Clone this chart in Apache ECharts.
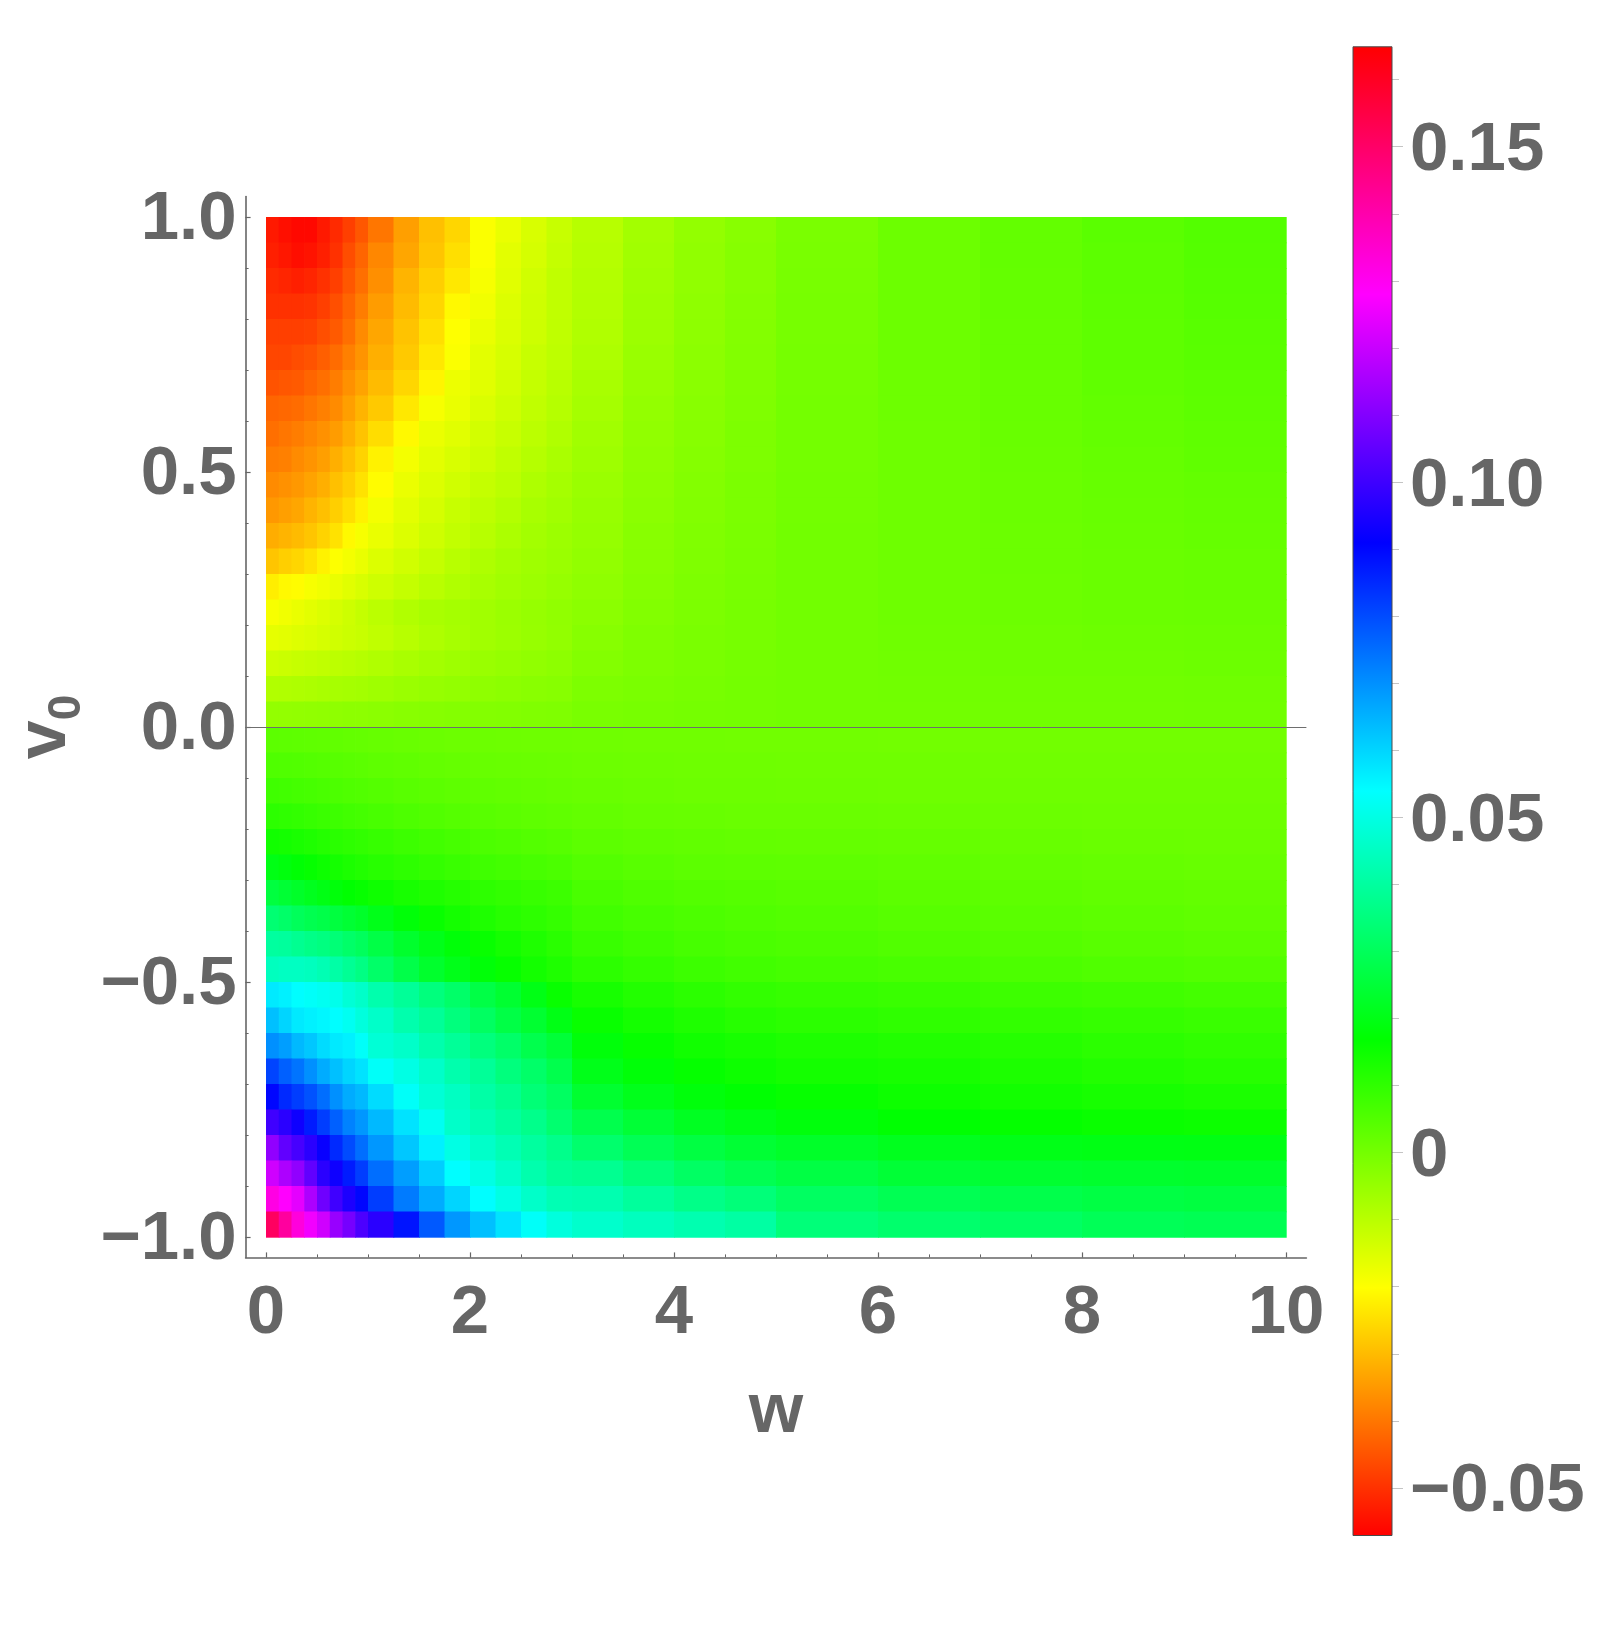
<!DOCTYPE html>
<html><head><meta charset="utf-8">
<script src="https://cdn.jsdelivr.net/npm/echarts@6/dist/echarts.min.js"></script>
<style>html,body{margin:0;padding:0;background:#fff}#c{width:1600px;height:1628px}</style>
</head><body><div id="c"></div>
<script>
// ---- bins (cell edges) ----
const wEdges  = [0,0.125,0.25,0.375,0.5,0.625,0.75,0.875,1,1.25,1.5,1.75,2,2.25,2.5,2.75,3,3.5,4,4.5,5,6,7,8,9,10];
const v0Edges = [1.0,0.95,0.9,0.85,0.8,0.75,0.7,0.65,0.6,0.55,0.5,0.45,0.4,0.35,0.3,0.25,0.2,0.15,0.1,0.05,0.0,
                 -0.05,-0.1,-0.15,-0.2,-0.25,-0.3,-0.35,-0.4,-0.45,-0.5,-0.55,-0.6,-0.65,-0.7,-0.75,-0.8,-0.85,-0.9,-0.95,-1.0];

// ---- values, one array per v0 row (top to bottom) ----
const v0_p0975 = [-0.0535,-0.0549,-0.056,-0.056,-0.0535,-0.051,-0.048,-0.0445,-0.040,-0.034,-0.0293,-0.026,-0.0195,-0.017,-0.0145,-0.012,-0.0097,-0.0067,-0.0045,-0.0028,-0.0008,0.0012,0.0026,0.0038,0.0049];
const v0_p0925 = [-0.0526,-0.0537,-0.055,-0.0543,-0.0526,-0.050,-0.046,-0.0425,-0.0375,-0.033,-0.0285,-0.0247,-0.0195,-0.016,-0.014,-0.0115,-0.0094,-0.0064,-0.0042,-0.0026,-0.0006,0.0012,0.0025,0.0036,0.0047];
const v0_p0875 = [-0.051,-0.0518,-0.0526,-0.0518,-0.050,-0.048,-0.0445,-0.041,-0.0363,-0.031,-0.027,-0.0235,-0.019,-0.0157,-0.0133,-0.011,-0.0091,-0.0061,-0.0041,-0.0025,-0.0005,0.0012,0.0024,0.0035,0.0045];
const v0_p0825 = [-0.050,-0.050,-0.050,-0.0495,-0.048,-0.0456,-0.0425,-0.039,-0.0345,-0.030,-0.026,-0.021,-0.018,-0.015,-0.013,-0.011,-0.0089,-0.0059,-0.0039,-0.0023,-0.0004,0.0012,0.0024,0.0034,0.0044];
const v0_p0775 = [-0.048,-0.048,-0.048,-0.0475,-0.0456,-0.044,-0.041,-0.037,-0.033,-0.0288,-0.0247,-0.020,-0.017,-0.0148,-0.0128,-0.0108,-0.0087,-0.0057,-0.0037,-0.0021,-0.0003,0.0012,0.0023,0.0033,0.0042];
const v0_p0725 = [-0.047,-0.047,-0.046,-0.045,-0.0433,-0.0415,-0.0386,-0.0356,-0.0317,-0.028,-0.0235,-0.0195,-0.016,-0.0142,-0.012,-0.0105,-0.0082,-0.0053,-0.0034,-0.0019,-0.0002,0.0012,0.0022,0.0032,0.004];
const v0_p0675 = [-0.045,-0.0445,-0.044,-0.0425,-0.041,-0.039,-0.036,-0.0335,-0.030,-0.026,-0.0215,-0.0175,-0.0157,-0.0136,-0.0115,-0.0098,-0.0075,-0.0049,-0.0031,-0.0017,-0.0001,0.0011,0.002,0.0029,0.0036];
const v0_p0625 = [-0.0425,-0.042,-0.0415,-0.040,-0.0386,-0.037,-0.034,-0.031,-0.028,-0.0235,-0.019,-0.017,-0.0148,-0.0128,-0.011,-0.0093,-0.007,-0.0045,-0.0029,-0.0015,0,0.0011,0.0019,0.0027,0.0034];
const v0_p0575 = [-0.041,-0.040,-0.039,-0.0375,-0.036,-0.0345,-0.0317,-0.0288,-0.025,-0.021,-0.0172,-0.0157,-0.0136,-0.012,-0.0102,-0.0087,-0.0065,-0.0042,-0.0027,-0.0013,0.0001,0.001,0.0018,0.0025,0.0031];
const v0_p0525 = [-0.039,-0.0386,-0.037,-0.0356,-0.034,-0.0317,-0.0293,-0.0265,-0.022,-0.0185,-0.016,-0.0145,-0.0128,-0.011,-0.0093,-0.0078,-0.006,-0.0039,-0.0024,-0.0012,0.0001,0.001,0.0017,0.0023,0.0029];
const v0_p0475 = [-0.037,-0.036,-0.035,-0.0335,-0.0317,-0.0293,-0.027,-0.0243,-0.0205,-0.0172,-0.015,-0.0133,-0.0115,-0.0102,-0.0083,-0.0071,-0.0055,-0.0035,-0.0021,-0.001,0.0002,0.001,0.0015,0.0021,0.0026];
const v0_p0425 = [-0.035,-0.034,-0.033,-0.031,-0.0293,-0.027,-0.0247,-0.022,-0.0185,-0.016,-0.014,-0.012,-0.0105,-0.009,-0.0075,-0.0064,-0.005,-0.0032,-0.0019,-0.0009,0.0002,0.001,0.0015,0.002,0.0024];
const v0_p0375 = [-0.032,-0.031,-0.030,-0.0285,-0.0265,-0.0243,-0.021,-0.019,-0.017,-0.015,-0.013,-0.0113,-0.0096,-0.008,-0.0068,-0.0057,-0.0047,-0.0029,-0.0017,-0.0008,0.0003,0.001,0.0014,0.0018,0.0022];
const v0_p0325 = [-0.0285,-0.027,-0.026,-0.0243,-0.022,-0.0198,-0.0185,-0.017,-0.015,-0.0133,-0.0115,-0.0098,-0.0083,-0.0071,-0.0062,-0.0054,-0.0043,-0.0027,-0.0015,-0.0006,0.0003,0.001,0.0014,0.0017,0.002];
const v0_p0275 = [-0.0225,-0.021,-0.0205,-0.019,-0.018,-0.017,-0.0157,-0.0145,-0.013,-0.0115,-0.0099,-0.0086,-0.0075,-0.0065,-0.0057,-0.0049,-0.0038,-0.0024,-0.0013,-0.0005,0.0004,0.001,0.0013,0.0016,0.0019];
const v0_p0225 = [-0.019,-0.018,-0.017,-0.016,-0.015,-0.014,-0.0128,-0.0116,-0.0102,-0.0088,-0.0076,-0.007,-0.0065,-0.0056,-0.0048,-0.0042,-0.0032,-0.002,-0.0011,-0.0004,0.0004,0.0009,0.0012,0.0015,0.0017];
const v0_p0175 = [-0.0165,-0.016,-0.0153,-0.0147,-0.014,-0.0133,-0.0126,-0.012,-0.011,-0.0096,-0.0084,-0.0074,-0.0065,-0.0057,-0.005,-0.0043,-0.0027,-0.0016,-0.0008,-0.0003,0.0004,0.0008,0.001,0.0012,0.0014];
const v0_p0125 = [-0.0128,-0.0124,-0.0119,-0.0114,-0.0109,-0.0104,-0.0099,-0.0094,-0.0086,-0.0076,-0.0068,-0.006,-0.0053,-0.0047,-0.0041,-0.0036,-0.0021,-0.0012,-0.0006,-0.0001,0.0004,0.0007,0.0009,0.001,0.0012];
const v0_p0075 = [-0.0088,-0.0086,-0.0083,-0.008,-0.0076,-0.0073,-0.007,-0.0067,-0.0062,-0.0055,-0.0049,-0.0044,-0.0039,-0.0034,-0.003,-0.0027,-0.0013,-0.0008,-0.0004,0,0.0003,0.0005,0.0006,0.0007,0.0008];
const v0_p0025 = [-0.0045,-0.0044,-0.0043,-0.0041,-0.004,-0.0038,-0.0036,-0.0035,-0.0032,-0.0029,-0.0026,-0.0023,-0.0021,-0.0019,-0.0017,-0.0015,-0.0007,-0.0004,-0.0001,0.0001,0.0003,0.0004,0.0005,0.0005,0.0006];
const v0_m0025 = [0.0035,0.0034,0.0033,0.0031,0.003,0.0028,0.0026,0.0024,0.0021,0.0018,0.0015,0.0013,0.0012,0.0011,0.001,0.0009,0.0008,0.0007,0.0006,0.0005,0.0005,0.0004,0.0004,0.0004,0.0004];
const v0_m0075 = [0.0055,0.0053,0.0051,0.0048,0.0046,0.0043,0.004,0.0037,0.0033,0.0029,0.0025,0.0022,0.002,0.0018,0.0016,0.0015,0.0013,0.0011,0.001,0.0009,0.0008,0.0008,0.0007,0.0007,0.0007];
const v0_m0125 = [0.0078,0.0075,0.0071,0.0067,0.0063,0.0059,0.0055,0.0052,0.0047,0.0042,0.0037,0.0033,0.003,0.0027,0.0024,0.0021,0.0018,0.0015,0.0013,0.0012,0.0011,0.001,0.001,0.0009,0.0009];
const v0_m0175 = [0.0105,0.0101,0.0096,0.009,0.0085,0.008,0.0075,0.0071,0.0064,0.0057,0.0051,0.0045,0.0041,0.0037,0.0033,0.003,0.0025,0.0021,0.0019,0.0017,0.0016,0.0015,0.0014,0.0013,0.0012];
const v0_m0225 = [0.0145,0.014,0.0133,0.0125,0.0117,0.011,0.0104,0.0098,0.009,0.0082,0.0075,0.0068,0.0059,0.0054,0.0049,0.0044,0.0036,0.0031,0.0028,0.0026,0.0024,0.0022,0.002,0.0017,0.0015];
const v0_m0275 = [0.020,0.0188,0.0175,0.0162,0.015,0.014,0.013,0.0121,0.0112,0.0103,0.0095,0.0086,0.0078,0.0072,0.0066,0.006,0.0048,0.0041,0.0036,0.0034,0.0032,0.0029,0.0026,0.0022,0.0019];
const v0_m0325 = [0.026,0.0245,0.0228,0.0213,0.0198,0.0183,0.017,0.016,0.0148,0.0135,0.0125,0.0115,0.0104,0.0096,0.0089,0.0082,0.0063,0.0055,0.0049,0.0045,0.0041,0.0036,0.0032,0.0028,0.0025];
const v0_m0375 = [0.0335,0.032,0.030,0.0285,0.0275,0.026,0.0245,0.023,0.0205,0.018,0.0157,0.014,0.0125,0.0113,0.0103,0.0094,0.0074,0.0066,0.0058,0.0053,0.0048,0.0043,0.0038,0.0034,0.003];
const v0_m0425 = [0.040,0.0395,0.038,0.0365,0.0355,0.034,0.032,0.0303,0.027,0.0235,0.0205,0.018,0.0158,0.014,0.0125,0.011,0.0088,0.0078,0.0068,0.0062,0.0057,0.0052,0.0047,0.0042,0.0037];
const v0_m0475 = [0.0445,0.045,0.045,0.0445,0.043,0.041,0.0385,0.036,0.032,0.0275,0.0235,0.0205,0.018,0.016,0.0142,0.0125,0.0105,0.0094,0.0082,0.0074,0.0069,0.0064,0.0058,0.0053,0.0048];
const v0_m0525 = [0.057,0.056,0.054,0.053,0.052,0.051,0.048,0.046,0.042,0.039,0.035,0.032,0.027,0.024,0.020,0.0157,0.0135,0.012,0.0107,0.0097,0.0091,0.0086,0.0081,0.0076,0.007];
const v0_m0575 = [0.063,0.060,0.057,0.056,0.055,0.054,0.052,0.049,0.046,0.042,0.039,0.035,0.031,0.027,0.024,0.020,0.0158,0.014,0.0125,0.0114,0.0107,0.0101,0.0097,0.0092,0.0086];
const v0_m0625 = [0.070,0.068,0.064,0.062,0.059,0.057,0.056,0.053,0.048,0.046,0.042,0.039,0.035,0.032,0.028,0.025,0.0183,0.016,0.0145,0.0135,0.0127,0.0121,0.0115,0.0106,0.0099];
const v0_m0675 = [0.081,0.077,0.074,0.070,0.066,0.063,0.060,0.058,0.053,0.050,0.046,0.042,0.039,0.035,0.032,0.028,0.0205,0.018,0.0162,0.015,0.014,0.0135,0.0129,0.0119,0.0112];
const v0_m0725 = [0.090,0.085,0.082,0.079,0.075,0.070,0.066,0.064,0.059,0.053,0.048,0.045,0.041,0.038,0.034,0.031,0.0238,0.0208,0.0185,0.0172,0.016,0.015,0.0143,0.0136,0.013];
const v0_m0775 = [0.100,0.097,0.093,0.087,0.082,0.077,0.072,0.069,0.064,0.058,0.052,0.046,0.043,0.040,0.037,0.033,0.028,0.0247,0.0218,0.0201,0.0186,0.0172,0.0163,0.0156,0.0152];
const v0_m0825 = [0.112,0.105,0.101,0.097,0.092,0.085,0.080,0.075,0.069,0.062,0.056,0.050,0.046,0.043,0.040,0.037,0.0325,0.0293,0.0265,0.0245,0.0228,0.0212,0.0202,0.0198,0.0197];
const v0_m0875 = [0.121,0.116,0.112,0.105,0.097,0.093,0.087,0.082,0.075,0.068,0.061,0.054,0.050,0.046,0.042,0.039,0.038,0.0345,0.0313,0.0288,0.0268,0.0248,0.0238,0.0234,0.0232];
const v0_m0925 = [0.132,0.128,0.124,0.116,0.107,0.100,0.095,0.090,0.082,0.073,0.066,0.060,0.054,0.050,0.046,0.043,0.0425,0.0395,0.0367,0.0345,0.031,0.029,0.0278,0.0268,0.0262];
const v0_m0975 = [0.151,0.142,0.133,0.126,0.121,0.113,0.108,0.102,0.097,0.088,0.078,0.069,0.063,0.058,0.053,0.049,0.0465,0.0445,0.0425,0.0405,0.0345,0.0325,0.0312,0.0295,0.029];

const gridRows = [v0_p0975,v0_p0925,v0_p0875,v0_p0825,v0_p0775,v0_p0725,v0_p0675,v0_p0625,v0_p0575,v0_p0525,
                  v0_p0475,v0_p0425,v0_p0375,v0_p0325,v0_p0275,v0_p0225,v0_p0175,v0_p0125,v0_p0075,v0_p0025,
                  v0_m0025,v0_m0075,v0_m0125,v0_m0175,v0_m0225,v0_m0275,v0_m0325,v0_m0375,v0_m0425,v0_m0475,
                  v0_m0525,v0_m0575,v0_m0625,v0_m0675,v0_m0725,v0_m0775,v0_m0825,v0_m0875,v0_m0925,v0_m0975];

// ---- ticks ----
const xTicks = [0,2,4,6,8,10];
const xMinorTicks = [0,0.5,1,1.5,2,2.5,3,3.5,4,4.5,5,5.5,6,6.5,7,7.5,8,8.5,9,9.5,10];
const yTicks = [-1,-0.5,0,0.5,1];
const yMinorTicks = [-1,-0.9,-0.8,-0.7,-0.6,-0.5,-0.4,-0.3,-0.2,-0.1,0,0.1,0.2,0.3,0.4,0.5,0.6,0.7,0.8,0.9,1];
const cbTicks = [-0.05,0,0.05,0.1,0.15];
const cbMinorTicks = [-0.05,-0.04,-0.03,-0.02,-0.01,0,0.01,0.02,0.03,0.04,0.05,0.06,0.07,0.08,0.09,0.1,0.11,0.12,0.13,0.14,0.15,0.16];
const cbRange = [-0.0571, 0.1649];
const hueColors = ['#ff0000','#ffff00','#00ff00','#00ffff','#0000ff','#ff00ff','#ff0000'];

const cells = [];
for (let r = 0; r < gridRows.length; r++) {
  for (let c = 0; c < wEdges.length - 1; c++) {
    cells.push([wEdges[c], wEdges[c+1], v0Edges[r+1], v0Edges[r], gridRows[r][c]]);
  }
}

const FONT = '"Liberation Sans", Arial, Helvetica, sans-serif';
const GRAY = '#666666';
const lab = {fontFamily: FONT, fontWeight: 'bold', fontSize: 69, color: GRAY};
const minus = s => s.replace('-', '\u2212');

const chart = echarts.init(document.getElementById('c'), null, {renderer: 'canvas'});
chart.setOption({
  animation: false,
  backgroundColor: '#ffffff',
  grid: [
    {left: 245.6, right: 293.6, top: 196.6, bottom: 370.6, outerBoundsMode: 'none'},
    {left: 1353, width: 39, top: 46.8, height: 1488.7, outerBoundsMode: 'none'}
  ],
  visualMap: {
    type: 'continuous', show: false, seriesIndex: 0, dimension: 4,
    min: cbRange[0], max: cbRange[1], inRange: {color: hueColors}
  },
  xAxis: [
    {type: 'value', gridIndex: 0, min: -0.2, max: 10.2, position: 'bottom',
     name: 'w', nameLocation: 'middle', nameGap: 120, nameMoveOverlap: false,
     nameTextStyle: {fontFamily: FONT, fontWeight: 'bold', fontSize: 70, color: GRAY},
     axisLine: {show: true, onZero: false, lineStyle: {color: GRAY, width: 1.6}},
     axisTick: {show: true, inside: true, length: 5, customValues: xTicks, lineStyle: {color: GRAY, width: 1.2}},
     axisLabel: Object.assign({show: true, margin: 22, customValues: xTicks, formatter: v => String(v)}, lab),
     splitLine: {show: false}, minorTick: {show: false}},
    {type: 'value', gridIndex: 0, min: -0.2, max: 10.2, position: 'bottom',
     axisLine: {show: false, onZero: false},
     axisTick: {show: true, inside: true, length: 3, customValues: xMinorTicks, lineStyle: {color: GRAY, width: 1}},
     axisLabel: {show: false}, splitLine: {show: false}},
    {type: 'value', gridIndex: 1, min: 0, max: 1, show: false, axisLine: {onZero: false}}
  ],
  yAxis: [
    {type: 'value', gridIndex: 0, min: -1.04, max: 1.04, position: 'left',
     name: '{v|v}{s|0}', nameLocation: 'middle', nameGap: 155, nameMoveOverlap: false,
     nameTextStyle: {rich: {
       v: {fontFamily: FONT, fontWeight: 'bold', fontSize: 70, lineHeight: 90, color: GRAY},
       s: {fontFamily: FONT, fontWeight: 'bold', fontSize: 46, verticalAlign: 'bottom', color: GRAY}
     }},
     axisLine: {show: true, onZero: false, lineStyle: {color: GRAY, width: 1.6}},
     axisTick: {show: true, inside: true, length: 5, customValues: yTicks, lineStyle: {color: GRAY, width: 1.2}},
     axisLabel: Object.assign({show: true, margin: 9, customValues: yTicks,
       formatter: v => '{t|' + minus(v.toFixed(1)) + '}',
       rich: {t: Object.assign({lineHeight: 74, verticalAlign: 'bottom'}, lab)}}, lab),
     splitLine: {show: false}},
    {type: 'value', gridIndex: 0, min: -1.04, max: 1.04, position: 'left',
     axisLine: {show: false, onZero: false},
     axisTick: {show: true, inside: true, length: 3, customValues: yMinorTicks, lineStyle: {color: GRAY, width: 1}},
     axisLabel: {show: false}, splitLine: {show: false}},
    {type: 'value', gridIndex: 1, min: cbRange[0], max: cbRange[1], position: 'right',
     axisLine: {show: false, onZero: false},
     axisTick: {show: true, inside: false, length: 11, customValues: cbTicks, lineStyle: {color: '#c4c4c4', width: 1}},
     axisLabel: Object.assign({show: true, margin: 18, customValues: cbTicks,
       formatter: v => '{t|' + (Math.abs(v) < 1e-9 ? '0' : minus(v.toFixed(2))) + '}',
       rich: {t: Object.assign({lineHeight: 78, verticalAlign: 'bottom'}, lab)}}, lab),
     splitLine: {show: false}},
    {type: 'value', gridIndex: 1, min: cbRange[0], max: cbRange[1], position: 'right',
     axisLine: {show: false, onZero: false},
     axisTick: {show: true, inside: false, length: 7, customValues: cbMinorTicks, lineStyle: {color: '#c4c4c4', width: 1}},
     axisLabel: {show: false}, splitLine: {show: false}}
  ],
  series: [
    {
      type: 'custom', xAxisIndex: 0, yAxisIndex: 0, data: cells,
      encode: {x: [0, 1], y: [2, 3]}, silent: true,
      renderItem: function (params, api) {
        const p0 = api.coord([api.value(0), api.value(3)]);
        const p1 = api.coord([api.value(1), api.value(2)]);
        return {type: 'rect',
          shape: {x: p0[0], y: p0[1], width: p1[0] - p0[0] + 0.7, height: p1[1] - p0[1] + 0.7},
          style: {fill: api.visual('color'), stroke: null}};
      },
      markLine: {silent: true, symbol: ['none', 'none'], label: {show: false},
        lineStyle: {color: '#6e6e6e', width: 1, type: 'solid'}, data: [{yAxis: 0}]},
      z: 2
    },
    {
      type: 'custom', xAxisIndex: 2, yAxisIndex: 2, silent: true,
      data: [[0, 1, cbRange[0], cbRange[1]]], encode: {x: [0, 1], y: [2, 3]},
      renderItem: function (params, api) {
        const p0 = api.coord([api.value(0), api.value(3)]);
        const p1 = api.coord([api.value(1), api.value(2)]);
        const stops = hueColors.map((c, i) => ({offset: i / (hueColors.length - 1), color: c}));
        return {type: 'rect',
          shape: {x: p0[0], y: p0[1], width: p1[0] - p0[0], height: p1[1] - p0[1]},
          style: {fill: new echarts.graphic.LinearGradient(0, 1, 0, 0, stops), stroke: '#4a4a4a', lineWidth: 1}};
      }
    }
  ]
});
</script>
</body></html>
